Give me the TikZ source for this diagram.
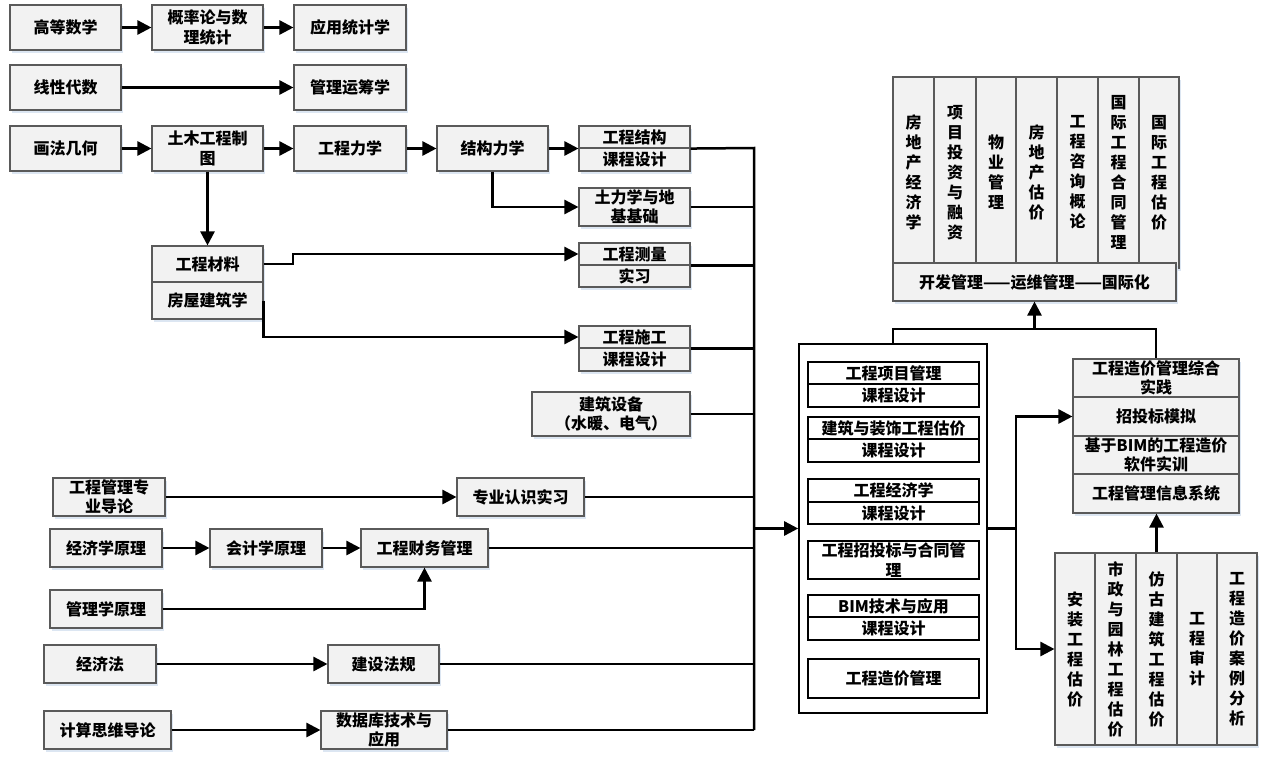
\documentclass[tikz,border=0pt]{standalone}
\usepackage{fontspec}
\setmainfont{Noto Sans CJK SC}
\usetikzlibrary{arrows.meta,shadows}
\definecolor{boxfill}{HTML}{F2F2F2}
\definecolor{boxline}{HTML}{5A5A5A}
\definecolor{shadowc}{HTML}{DCE6F2}
\tikzset{
  box/.style={draw=boxline, fill=boxfill, line width=1.1pt, inner sep=0pt, align=center,
    font=\fontsize{16}{19.5}\selectfont\bfseries,
    drop shadow={shadow xshift=1.5pt, shadow yshift=-3pt, fill=shadowc, opacity=1}},
  colbox/.style={box, font=\fontsize{16}{20}\selectfont\bfseries},
  ibox/.style={draw=black, fill=white, line width=1.8pt, inner sep=0pt, align=center,
    font=\fontsize{16}{19.5}\selectfont\bfseries},
  bigbox/.style={draw=black, fill=white, line width=1.6pt, inner sep=0pt},
  conn/.style={line width=2.5pt, black},
  arr/.style={conn, -{Triangle[length=14pt,width=14pt]}},
}
\newcommand\mybox[7][box]{\node[#1, minimum width={(#5-#3)*1pt}, minimum height={(#6-#4)*1pt}] (#2) at ({(#3+#5)/2},{(#4+#6)/2}) {#7};}
\begin{document}
\begin{tikzpicture}[x=1pt,y=-1pt]
\useasboundingbox (0,0) rectangle (1269,766);
% left column rows
\mybox{gdsx}{10}{5}{121}{50}{高等数学}
\mybox{gll}{152}{5}{263}{50}{概率论与数\\理统计}
\mybox{yytj}{294}{5}{406}{50}{应用统计学}
\mybox{xxds}{10}{65}{121}{110}{线性代数}
\mybox{glyc}{294}{65}{406}{110}{管理运筹学}
\mybox{hfjh}{10}{126}{121}{171}{画法几何}
\mybox{tmzt}{152}{126}{263}{171}{土木工程制\\图}
\mybox{gclx}{294}{126}{406}{171}{工程力学}
\mybox{jglx}{437}{126}{548}{171}{结构力学}
\mybox{gcjg}{579}{126}{690}{148}{工程结构}
\mybox{gcjgk}{579}{148}{690}{171}{课程设计}
\mybox{tlx}{579}{188}{690}{226}{土力学与地\\基基础}
\mybox{gccl}{152}{246}{263}{282}{工程材料}
\mybox{fwjz}{152}{282}{263}{319}{房屋建筑学}
\mybox{gccls}{579}{243}{690}{265}{工程测量}
\mybox{gcclsx}{579}{265}{690}{287}{实习}
\mybox{gcsg}{579}{326}{690}{348}{工程施工}
\mybox{gcsgk}{579}{348}{690}{371}{课程设计}
\mybox{jzsb}{532}{392}{690}{436}{建筑设备\\（水暖、电气）}
\mybox{dl}{53}{478}{165}{516}{工程管理专\\业导论}
\mybox{rsxx}{457}{478}{584}{516}{专业认识实习}
\mybox{jjx}{50}{529}{162}{567}{经济学原理}
\mybox{kjx}{210}{529}{322}{567}{会计学原理}
\mybox{cwgl}{361}{529}{488}{567}{工程财务管理}
\mybox{glx}{50}{590}{162}{628}{管理学原理}
\mybox{jjf}{44}{645}{156}{683}{经济法}
\mybox{jsfg}{328}{645}{439}{683}{建设法规}
\mybox{jssw}{44}{711}{171}{749}{计算思维导论}
\mybox{sjk}{321}{711}{447}{749}{数据库技术与\\应用}
% big box
\mybox[bigbox]{big}{799}{344}{987}{713}{}
\mybox[ibox]{i1}{808}{362}{979}{384}{工程项目管理}
\mybox[ibox]{i1b}{808}{384}{979}{407}{课程设计}
\mybox[ibox]{i2}{808}{417}{979}{439}{建筑与装饰工程估价}
\mybox[ibox]{i2b}{808}{439}{979}{462}{课程设计}
\mybox[ibox]{i3}{808}{479}{979}{502}{工程经济学}
\mybox[ibox]{i3b}{808}{502}{979}{524}{课程设计}
\mybox[ibox]{i4}{808}{541}{979}{579}{工程招投标与合同管\\理}
\mybox[ibox]{i5}{808}{595}{979}{617}{BIM技术与应用}
\mybox[ibox]{i5b}{808}{617}{979}{640}{课程设计}
\mybox[ibox]{i6}{808}{659}{979}{698}{工程造价管理}
% right stack
\mybox{zh}{1073}{359}{1239}{397}{工程造价管理综合\\实践}
\mybox{ztb}{1073}{397}{1239}{436}{招投标模拟}
\mybox{bim}{1073}{436}{1239}{474}{基于BIM的工程造价\\软件实训}
\mybox{xx}{1073}{474}{1239}{513}{工程管理信息系统}
% bottom columns
\mybox[colbox]{az}{1055}{553}{1095}{745}{安\\装\\工\\程\\估\\价}
\mybox[colbox]{sz}{1095}{553}{1136}{745}{市\\政\\与\\园\\林\\工\\程\\估\\价}
\mybox[colbox]{fg}{1136}{553}{1177}{745}{仿\\古\\建\\筑\\工\\程\\估\\价}
\mybox[colbox]{sj}{1177}{553}{1217}{745}{工\\程\\审\\计}
\mybox[colbox]{al}{1217}{553}{1257}{745}{工\\程\\造\\价\\案\\例\\分\\析}
% top columns
\mybox[colbox]{t1}{893}{77}{934}{268}{房\\地\\产\\经\\济\\学}
\mybox[colbox]{t2}{934}{77}{976}{268}{项\\目\\投\\资\\与\\融\\资}
\mybox[colbox]{t3}{976}{77}{1016}{268}{物\\业\\管\\理}
\mybox[colbox]{t4}{1016}{77}{1057}{268}{房\\地\\产\\估\\价}
\mybox[colbox]{t5}{1057}{77}{1098}{268}{工\\程\\咨\\询\\概\\论}
\mybox[colbox]{t6}{1098}{77}{1139}{268}{国\\际\\工\\程\\合\\同\\管\\理}
\mybox[colbox]{t7}{1139}{77}{1179}{268}{国\\际\\工\\程\\估\\价}
\mybox{bar}{893}{263}{1176}{301}{开发管理——运维管理——国际化}
% coordinates
\coordinate (bt) at (754,148);
\coordinate (bb) at (754,730);
\coordinate (k1) at (293,254);
\coordinate (s1) at (1016,528.5);
\coordinate (tl) at (0,329);
% connectors
\draw[arr] (gdsx) -- (gll);
\draw[arr] (gll) -- (yytj);
\draw[arr] (xxds) -- (glyc);
\draw[arr] (hfjh) -- (tmzt);
\draw[arr] (tmzt) -- (gclx);
\draw[arr] (gclx) -- (jglx);
\draw[arr] (jglx.east) -- (jglx.east -| gcjg.west);
\draw[arr] (jglx.south) |- (tlx.west);
\draw[arr] (tmzt.south) -- (gccl.north);
\draw[arr] (gccl.east) -| (k1) -- (gccls.west);
\draw[arr] (fwjz.east) |- (gcsg.west);
\draw[conn] (gcjg.south east) -- (bt) -- (bb);
\draw[conn] (tlx.east) -- (tlx.east -| bt);
\draw[conn] (gccls.south east) -- (gccls.south east -| bt);
\draw[conn] (gcsg.south east) -- (gcsg.south east -| bt);
\draw[conn] (jzsb.east) -- (jzsb.east -| bt);
\draw[arr] (dl) -- (rsxx);
\draw[conn] (rsxx.east) -- (rsxx.east -| bt);
\draw[arr] (jjx) -- (kjx);
\draw[arr] (kjx) -- (cwgl);
\draw[conn] (cwgl.east) -- (cwgl.east -| bt);
\draw[arr] (glx.east) -| (cwgl.south);
\draw[arr] (jjf) -- (jsfg);
\draw[conn] (jsfg.east) -- (jsfg.east -| bt);
\draw[arr] (jssw) -- (sjk);
\draw[conn] (sjk.east) -- (bb);
\draw[arr] (big.west -| bt) -- (big.west);
\draw[conn] (big.east) -- (s1);
\draw[arr] (s1) |- (ztb.west);
\draw[arr] (s1) |- (az.west);
\draw[arr] (fg.north) -- (fg.north |- xx.south);
\draw[conn] (big.north) |- (zh.north |- tl) -- (zh.north);
\draw[arr] (bar.south |- tl) -- (bar.south);
\end{tikzpicture}
\end{document}
